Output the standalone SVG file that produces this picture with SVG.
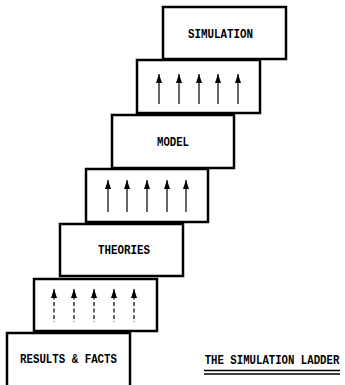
<svg xmlns="http://www.w3.org/2000/svg" width="345" height="385" viewBox="0 0 345 385">
<defs>
<style>
.box{fill:#fff;stroke:#000;stroke-width:2.5}
.lbl{font-family:"Liberation Mono","DejaVu Sans Mono",monospace;font-weight:bold;font-size:13.5px;fill:#000;text-anchor:middle;dominant-baseline:central}
.shaft{stroke:#000;stroke-width:1.2;fill:none;marker-start:url(#ah)}
.dash{stroke-dasharray:4 2.5}
</style>
<marker id="ah" viewBox="0 0 6 10" refX="3" refY="0" markerWidth="6" markerHeight="10" markerUnits="userSpaceOnUse" orient="0">
<path d="M3,0 L6,9 L0,9 Z" fill="#000"/>
</marker>
</defs>
<rect width="345" height="385" fill="#fff"/>
<g id="results"><rect class="box" x="7" y="333" width="123" height="56"/><text class="lbl" x="68.5" y="359" textLength="97" lengthAdjust="spacingAndGlyphs">RESULTS &amp; FACTS</text></g>
<g id="step1"><rect class="box" x="34" y="279" width="123" height="52"/></g>
<g id="theories"><rect class="box" x="60" y="224" width="123" height="52"/><text class="lbl" x="124" y="250" textLength="52" lengthAdjust="spacingAndGlyphs">THEORIES</text></g>
<g id="step2"><rect class="box" x="86" y="169" width="122" height="53"/></g>
<g id="model"><rect class="box" x="112" y="115" width="122" height="53"/><text class="lbl" x="173" y="142" textLength="32" lengthAdjust="spacingAndGlyphs">MODEL</text></g>
<g id="step3"><rect class="box" x="137" y="60" width="123" height="53"/></g>
<g id="simulation"><rect class="box" x="163" y="7" width="123" height="52"/><text class="lbl" x="220.5" y="34" textLength="65" lengthAdjust="spacingAndGlyphs">SIMULATION</text></g>
<g id="connectors">
<line class="shaft" x1="159" y1="74" x2="159" y2="104"/>
<line class="shaft" x1="179" y1="74" x2="179" y2="104"/>
<line class="shaft" x1="199" y1="74" x2="199" y2="104"/>
<line class="shaft" x1="218" y1="74" x2="218" y2="104"/>
<line class="shaft" x1="238" y1="74" x2="238" y2="104"/>
<line class="shaft" x1="108" y1="180" x2="108" y2="212"/>
<line class="shaft" x1="127" y1="180" x2="127" y2="212"/>
<line class="shaft" x1="147" y1="180" x2="147" y2="212"/>
<line class="shaft" x1="167" y1="180" x2="167" y2="212"/>
<line class="shaft" x1="186" y1="180" x2="186" y2="212"/>
<line class="shaft dash" x1="54" y1="289" x2="54" y2="322"/>
<line class="shaft dash" x1="74" y1="289" x2="74" y2="322"/>
<line class="shaft dash" x1="94" y1="289" x2="94" y2="322"/>
<line class="shaft dash" x1="114" y1="289" x2="114" y2="322"/>
<line class="shaft dash" x1="134" y1="289" x2="134" y2="322"/>
</g>
<g id="title">
<text transform="translate(272,364) scale(1,1.2)" x="0" y="0" text-anchor="middle" font-family="Liberation Mono, DejaVu Sans Mono, monospace" font-weight="bold" font-size="10.7">THE SIMULATION LADDER</text>
<line x1="204" y1="370.5" x2="340" y2="370.5" stroke="#000" stroke-width="1.5"/>
<line x1="204" y1="374" x2="340" y2="374" stroke="#000" stroke-width="1.5"/>
</g>
</svg>
